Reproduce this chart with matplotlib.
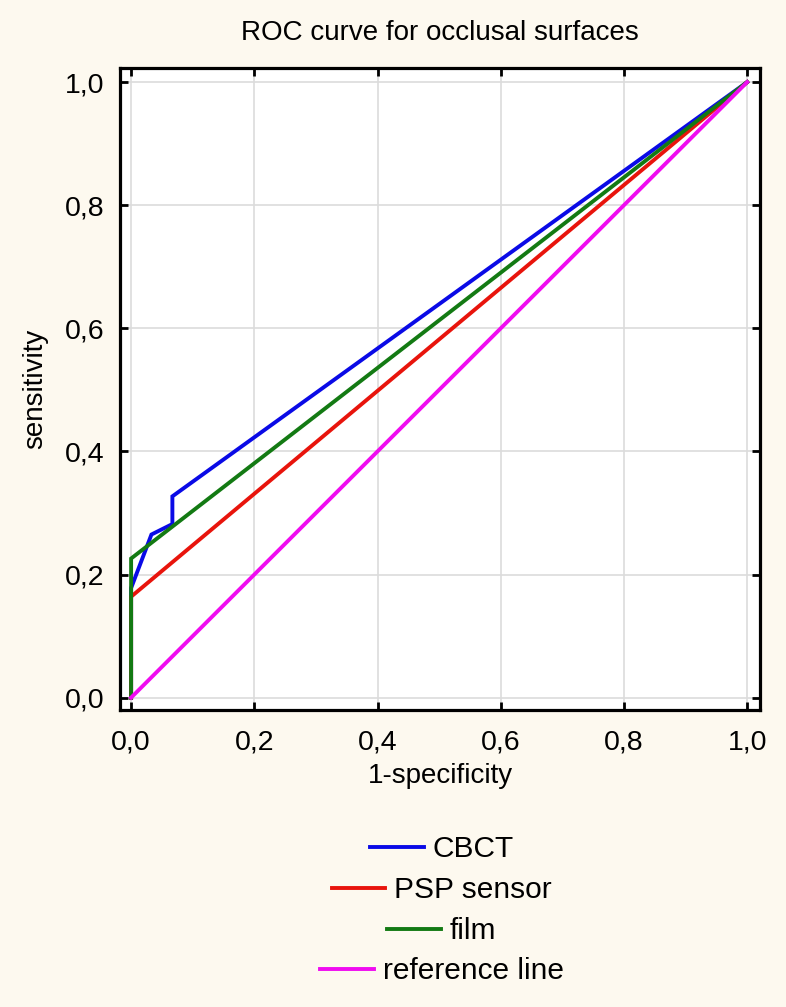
import matplotlib
matplotlib.use("Agg")
import matplotlib.pyplot as plt
from matplotlib.lines import Line2D

# ROC points
cbct_fpr = [0.0, 0.0, 0.033, 0.067, 0.067, 1.0]
cbct_tpr = [0.0, 0.178, 0.265, 0.282, 0.327, 1.0]
psp_fpr = [0.0, 0.0, 1.0]
psp_tpr = [0.0, 0.164, 1.0]
film_fpr = [0.0, 0.0, 1.0]
film_tpr = [0.0, 0.226, 1.0]
ref_fpr = [0.0, 1.0]
ref_tpr = [0.0, 1.0]

series_names = ["CBCT", "PSP sensor", "film", "reference line"]
tick_values = [0.0, 0.2, 0.4, 0.6, 0.8, 1.0]
tick_labels = ["0,0", "0,2", "0,4", "0,6", "0,8", "1,0"]

colors = ["#0A0AE6", "#E8140C", "#137A13", "#F00CF0"]
bg = "#FDF9EF"

plt.rcParams["font.family"] = ["Liberation Sans", "DejaVu Sans"]

fig = plt.figure(figsize=(7.86, 10.07), dpi=100, facecolor=bg)
ax = fig.add_axes([0.1527, 0.295, 0.8143, 0.6375])
ax.set_facecolor("white")

data = [(cbct_fpr, cbct_tpr), (psp_fpr, psp_tpr), (film_fpr, film_tpr), (ref_fpr, ref_tpr)]
for (x, y), c in zip(data, colors):
    ax.plot(x, y, color=c, lw=2.8, solid_joinstyle="miter", zorder=3)

ax.set_xlim(-0.018, 1.021)
ax.set_ylim(-0.02, 1.023)
ax.set_xticks(tick_values)
ax.set_xticklabels(tick_labels)
ax.set_yticks(tick_values)
ax.set_yticklabels(tick_labels)
ax.grid(True, color="#DCDCDC", lw=1.2, zorder=0)
ax.tick_params(direction="in", length=6, width=2, top=True, right=True,
               labelsize=20.5)
ax.tick_params(axis="x", pad=14)
ax.tick_params(axis="y", pad=11)
for s in ax.spines.values():
    s.set_linewidth(2.3)

ax.set_title("ROC curve for occlusal surfaces", fontsize=20, pad=20)
ax.set_xlabel("1-specificity", fontsize=20, labelpad=5.5)
ax.set_ylabel("sensitivity", fontsize=20, labelpad=12)

# each legend row is centred on its own, so build one small legend per row
row_y = [0.1565, 0.1158, 0.0752, 0.0355]
for name, c, y in zip(series_names, colors, row_y):
    h = Line2D([], [], color=c, lw=2.8)
    fig.legend([h], [name], loc="center", bbox_to_anchor=(0.562, y),
               frameon=False, fontsize=21.5, handlelength=1.8,
               handletextpad=0.3, borderpad=0, borderaxespad=0)

fig.savefig("out.png", dpi=100, facecolor=bg)
